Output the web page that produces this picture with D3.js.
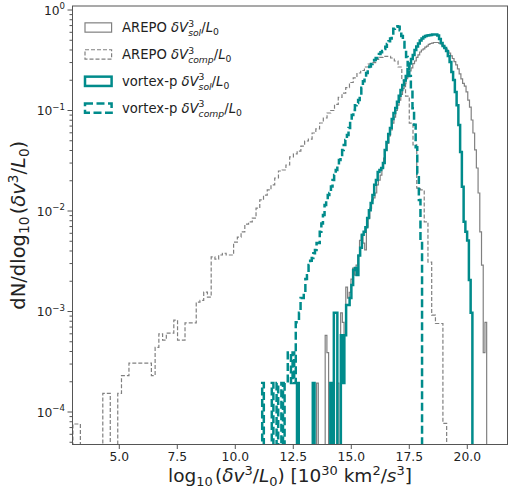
<!DOCTYPE html>
<html><head><meta charset="utf-8">
<script src="https://cdn.jsdelivr.net/npm/d3@7"></script>
<style>body{margin:0;background:#fff} svg{display:block} text{font-family:"DejaVu Sans",sans-serif;white-space:pre}</style>
</head><body><svg id="c" width="509" height="489"></svg>
<script>
// ---------- data ----------
const xTicks = [5.0, 7.5, 10.0, 12.5, 15.0, 17.5, 20.0];
const xTickLabels = ["5.0", "7.5", "10.0", "12.5", "15.0", "17.5", "20.0"];
const yTickExps = [0, -1, -2, -3, -4];
const yTickLabels = ["0", "\u22121", "\u22122", "\u22123", "\u22124"];

const arepoSolRange = [13.43, 20.835];
const arepoSolValues = [0, 1.94e-4, 0, 0, 0, 0, 5.8e-4, 3.9e-4, 0, 0,
  0, 0, 0, 1.94e-4, 0, 9.7e-4, 7.8e-4, 5.8e-4, 1.75e-3, 1.36e-3,
  1.55e-3, 2.1e-3, 2.7e-3, 2.3e-3, 2.9e-3, 3.6e-3, 5.1e-3, 5.8e-3, 4.8e-3, 4.1e-3,
  6.9e-3, 8.5e-3, 0.0107, 0.0129, 0.0135, 0.0151, 0.0182, 0.0203, 0.0228, 0.0268,
  0.0337, 0.040, 0.047, 0.056, 0.064, 0.075, 0.086, 0.10, 0.113, 0.127,
  0.145, 0.165, 0.185, 0.207, 0.228, 0.248, 0.265, 0.293, 0.311, 0.337,
  0.357, 0.382, 0.40, 0.41, 0.428, 0.438, 0.454, 0.464, 0.469, 0.475,
  0.475, 0.475, 0.469, 0.459, 0.444, 0.424, 0.41, 0.39, 0.373, 0.349,
  0.329, 0.307, 0.284, 0.259, 0.231, 0.206, 0.186, 0.175, 0.153, 0.127,
  0.108, 0.0804, 0.0597, 0.0405, 0.0268, 0.0151, 0.0062, 0.0029, 3.9e-4, 7.8e-4];

const arepoCompRange = [3.0, 19.11];
const arepoCompValues = [7.6e-5, 7.6e-5, 0, 0, 0, 0, 0, 0, 1.53e-4, 1.53e-4,
  0, 0, 1.53e-4, 2.3e-4, 2.3e-4, 3.07e-4, 3.07e-4, 3.07e-4, 3.07e-4, 3.07e-4,
  3.07e-4, 2.3e-4, 4.4e-4, 6.0e-4, 5.2e-4, 6.1e-4, 6.1e-4, 8.2e-4, 5.2e-4, 5.2e-4,
  7.7e-4, 7.7e-4, 7.7e-4, 1.24e-3, 1.29e-3, 1.56e-3, 1.39e-3, 3.49e-3, 3.32e-3, 3.65e-3,
  3.8e-3, 3.65e-3, 3.65e-3, 4.9e-3, 5.5e-3, 6.2e-3, 7.4e-3, 7.8e-3, 8.5e-3, 0.0107,
  0.0129, 0.0144, 0.0162, 0.0182, 0.0213, 0.025, 0.0256, 0.0287, 0.0345, 0.037,
  0.0395, 0.0443, 0.0497, 0.052, 0.0597, 0.0655, 0.0751, 0.0842, 0.0944, 0.1,
  0.115, 0.135, 0.149, 0.169, 0.19, 0.211, 0.236, 0.25, 0.271, 0.29,
  0.3, 0.322, 0.337, 0.345, 0.345, 0.333, 0.311, 0.271, 0.201, 0.139,
  0.075, 0.0454, 0.0169, 0.0162, 7.8e-3, 3.1e-3, 9.2e-4, 7.6e-4, 7.6e-4, 7.7e-5];

const vortexSolRange = [12.66, 20.22];
const vortexSolValues = [1.94e-4, 0, 0, 0, 0, 0, 0, 0, 0, 1.94e-4,
  0, 0, 0, 0, 0, 0, 0, 0, 0, 1.94e-4,
  0, 9.7e-4, 9.7e-4, 0, 0, 5.8e-4, 1.94e-4, 5.8e-4, 1.16e-3, 1.16e-3,
  1.36e-3, 1.84e-3, 2.59e-3, 2.71e-3, 2.31e-3, 3.6e-3, 4.3e-3, 5.8e-3, 6.2e-3, 6.9e-3,
  8.5e-3, 0.0102, 0.012, 0.0144, 0.0182, 0.0203, 0.0244, 0.0256, 0.0268, 0.0301,
  0.0405, 0.0486, 0.0585, 0.067, 0.0825, 0.0944, 0.106, 0.122, 0.14, 0.16,
  0.179, 0.199, 0.221, 0.259, 0.293, 0.325, 0.357, 0.40, 0.433, 0.464,
  0.497, 0.521, 0.539, 0.551, 0.557, 0.561, 0.564, 0.57, 0.57, 0.57,
  0.557, 0.515, 0.469, 0.438, 0.419, 0.39, 0.349, 0.304, 0.242, 0.201,
  0.153, 0.113, 0.0717, 0.0387, 0.0174, 0.0078, 0.0062, 0.0051, 0.00206, 9.7e-4];

const vortexCompRange = [11.16, 18.05];
const vortexCompValues = [1.94e-4, 0, 0, 0, 0, 0, 1.94e-4, 0, 0, 1.94e-4,
  0, 0, 1.94e-4, 0, 1.94e-4, 1.94e-4, 3.9e-4, 3.9e-4, 1.94e-4, 3.9e-4,
  1.94e-4, 7.8e-4, 7.8e-4, 9.7e-4, 1.36e-3, 1.36e-3, 1.55e-3, 2.1e-3, 2.3e-3, 2.9e-3,
  3.2e-3, 3.4e-3, 3.8e-3, 4.1e-3, 4.8e-3, 4.8e-3, 6.2e-3, 7.5e-3, 9.1e-3, 0.0115,
  0.0129, 0.0144, 0.0151, 0.0175, 0.0203, 0.0228, 0.0256, 0.0287, 0.0322, 0.0361,
  0.0405, 0.0454, 0.0509, 0.057, 0.067, 0.0804, 0.0902, 0.101, 0.113, 0.119,
  0.127, 0.14, 0.168, 0.195, 0.211, 0.236, 0.259, 0.274, 0.29, 0.304,
  0.318, 0.333, 0.349, 0.365, 0.38, 0.39, 0.41, 0.43, 0.46, 0.49,
  0.52, 0.55, 0.65, 0.69, 0.69, 0.68, 0.63, 0.55, 0.48, 0.41,
  0.34, 0.28, 0.22, 0.16, 0.105, 0.072, 0.043, 0.0236, 0.0129, 0.0051];

// ---------- layout ----------
const W = 509, H = 489;
const L = 72.5, R = 507.5, T = 6, B = 444.5;
const TEAL = "#008b8b", GRAY = "#808080", AX = "#555", TXT = "#222";

const svg = d3.select("#c");
const x = d3.scaleLinear().domain([2.983, 21.733]).range([L, R]);
const y = d3.scaleLog().domain([4.75e-5, 1.096]).range([B, T]);

svg.append("defs").append("clipPath").attr("id", "clip")
  .append("rect").attr("x", L).attr("y", T).attr("width", R - L).attr("height", B - T);

function stepPath(range, values) {
  const n = values.length;
  const edge = i => range[0] + (range[1] - range[0]) * i / n;
  const yy = v => v > 0 ? y(v) : B + 20;
  let d = `M${x(edge(0))},${B + 20}`;
  values.forEach((v, i) => {
    d += `L${x(edge(i))},${yy(v)}L${x(edge(i + 1))},${yy(v)}`;
  });
  d += `L${x(edge(n))},${B + 20}`;
  return d;
}

const series = [
  { range: arepoSolRange, values: arepoSolValues, color: GRAY, lw: 1.2, dash: null },
  { range: arepoCompRange, values: arepoCompValues, color: GRAY, lw: 1.2, dash: "4,2" },
  { range: vortexSolRange, values: vortexSolValues, color: TEAL, lw: 2.5, dash: null },
  { range: vortexCompRange, values: vortexCompValues, color: TEAL, lw: 2.5, dash: "8,3.5" }
];

const plot = svg.append("g").attr("clip-path", "url(#clip)");
series.forEach(s => {
  plot.append("path").attr("d", stepPath(s.range, s.values))
    .attr("fill", "none").attr("stroke", s.color).attr("stroke-width", s.lw)
    .attr("stroke-dasharray", s.dash).attr("stroke-linejoin", "miter");
});

// ---------- math text helper ----------
function mathText(parent, x0, y0, pieces, fs, anchor, color) {
  const g = parent.append("g");
  let cx = 0, stackStart = 0, stackW = 0;
  pieces.forEach(p => {
    const s = p.s || 1;
    const px = p.stack ? stackStart : cx;
    const t = g.append("text").attr("x", px).attr("y", (p.dy || 0) * fs)
      .attr("font-size", fs * s).attr("font-style", p.it ? "italic" : "normal")
      .attr("fill", color).text(p.t);
    const w = t.node().getComputedTextLength();
    if (p.stack) { cx = stackStart + Math.max(stackW, w); }
    else { stackStart = px; stackW = w; cx = px + w + (p.pad || 0) * fs; }
  });
  const shift = anchor === "middle" ? -cx / 2 : anchor === "end" ? -cx : 0;
  g.attr("transform", `translate(${x0 + shift},${y0})`);
  return g;
}
const SUP = -0.36, SUB = 0.22, SC = 0.7;

// ---------- axes ----------
const axes = svg.append("g");
axes.append("rect").attr("x", L).attr("y", T).attr("width", R - L).attr("height", B - T)
  .attr("fill", "none").attr("stroke", AX).attr("stroke-width", 1);

const TF = 12.3;
xTicks.forEach((t, i) => {
  axes.append("line").attr("x1", x(t)).attr("x2", x(t)).attr("y1", B).attr("y2", B + 4.5)
    .attr("stroke", AX);
  axes.append("text").attr("x", x(t)).attr("y", 461).attr("text-anchor", "middle")
    .attr("font-size", TF).attr("fill", TXT).text(xTickLabels[i]);
});

yTickExps.forEach((e, i) => {
  const yy = y(Math.pow(10, e));
  axes.append("line").attr("x1", L - 5).attr("x2", L).attr("y1", yy).attr("y2", yy).attr("stroke", AX);
  mathText(axes, 65, yy + 4.5, [
    { t: "10" }, { t: yTickLabels[i], s: SC, dy: -0.42 }
  ], TF, "end", TXT);
});
for (let e = -5; e <= 0; e++) {
  for (let m = 2; m <= 9; m++) {
    const v = m * Math.pow(10, e);
    if (v < y.domain()[0] || v > y.domain()[1]) continue;
    axes.append("line").attr("x1", L - 3).attr("x2", L).attr("y1", y(v)).attr("y2", y(v)).attr("stroke", AX);
  }
}

// x label
mathText(svg, (L + R) / 2, 482, [
  { t: "log" }, { t: "10", s: SC, dy: SUB, pad: 0.12 }, { t: "(" }, { t: "δv", it: true },
  { t: "3", s: SC, dy: SUP }, { t: "/" }, { t: "L", it: true }, { t: "0", s: SC, dy: SUB },
  { t: ") [10" }, { t: "30", s: SC, dy: SUP }, { t: " km" }, { t: "2", s: SC, dy: SUP },
  { t: "/" }, { t: "s", it: true }, { t: "3", s: SC, dy: SUP }, { t: "]" }
], 18.5, "middle", TXT);

// y label
const yl = svg.append("g").attr("transform", `translate(25,${(T + B) / 2}) rotate(-90)`);
mathText(yl, 0, 0, [
  { t: "dN/dlog" }, { t: "10", s: SC, dy: SUB, pad: 0.12 }, { t: "(" }, { t: "δv", it: true },
  { t: "3", s: SC, dy: SUP }, { t: "/" }, { t: "L", it: true }, { t: "0", s: SC, dy: SUB }, { t: ")" }
], 19.5, "middle", TXT);

// ---------- legend ----------
const legendItems = [
  { name: "AREPO", sub: "sol", color: GRAY, lw: 1.2, dash: null },
  { name: "AREPO", sub: "comp", color: GRAY, lw: 1.2, dash: "4,2" },
  { name: "vortex-p", sub: "sol", color: TEAL, lw: 2.5, dash: null },
  { name: "vortex-p", sub: "comp", color: TEAL, lw: 2.5, dash: "8,3.5" }
];
const leg = svg.append("g");
legendItems.forEach((it, i) => {
  const cy = 27.5 + i * 26.9;
  leg.append("rect").attr("x", 85).attr("y", cy - 4.65).attr("width", 26.6).attr("height", 9.3)
    .attr("fill", "none").attr("stroke", it.color).attr("stroke-width", it.lw)
    .attr("stroke-dasharray", it.dash);
  mathText(leg, 122, cy + 4.7, [
    { t: it.name + " " }, { t: "δV", it: true },
    { t: "3", s: SC, dy: -0.42 }, { t: it.sub, s: SC, it: true, dy: 0.3, stack: true },
    { t: "/" }, { t: "L", it: true }, { t: "0", s: SC, dy: SUB }
  ], 13.2, "start", TXT);
});
</script></body></html>
